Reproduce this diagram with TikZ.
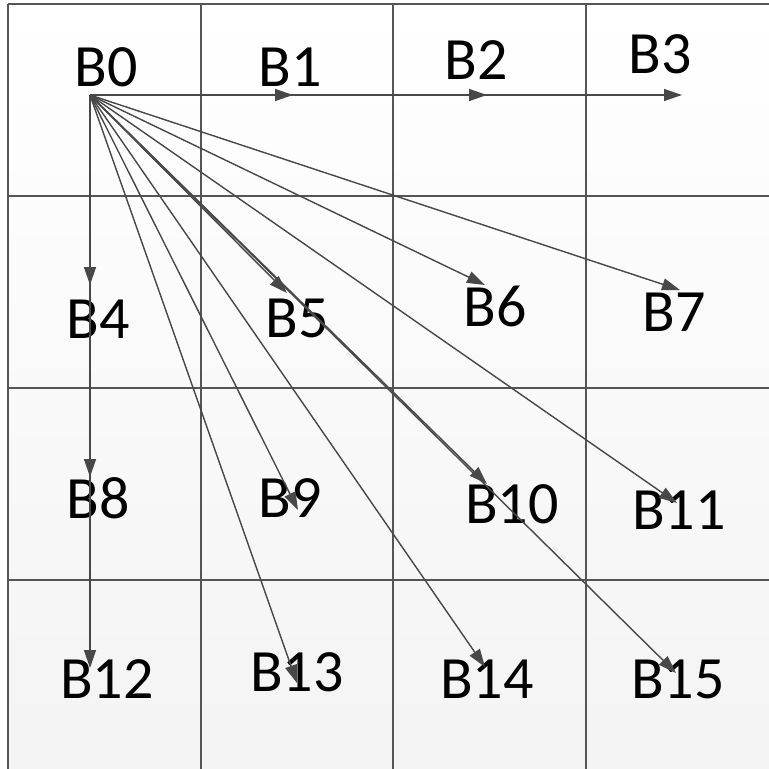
\documentclass[tikz,border=0pt]{standalone}
\usepackage{fontspec}
\setmainfont{Carlito}
\usetikzlibrary{arrows.meta}
\definecolor{gridgray}{RGB}{85,85,85}
\definecolor{arrgray}{RGB}{72,72,72}

\begin{document}
\begin{tikzpicture}[x=1pt,y=-1pt,
    blocklabel/.style={inner sep=0pt, font=\fontsize{60}{66}\selectfont},
    gridline/.style={draw=gridgray, line width=1.8pt},
    arr/.style={-{Triangle[length=18pt,width=12pt]}, draw=arrgray, fill=arrgray, line width=1.4pt}
  ]
  \useasboundingbox (0,0) rectangle (769,769);
  \shade[top color=white, bottom color=gray!9] (8,4) rectangle (769,769);

  % grid of blocks
  \foreach \x in {8,201,393,586} \draw[gridline] (\x,4) -- (\x,769);
  \foreach \y in {4,196,388,580} \draw[gridline] (8,\y) -- (769,\y);

  % block labels
  \node[blocklabel] (b0)  at (106,67)  {B0};
  \node[blocklabel] (b1)  at (290,67)  {B1};
  \node[blocklabel] (b2)  at (476,60)  {B2};
  \node[blocklabel] (b3)  at (660,54)  {B3};
  \node[blocklabel] (b4)  at (98,319)  {B4};
  \node[blocklabel] (b5)  at (297,318) {B5};
  \node[blocklabel] (b6)  at (495,306) {B6};
  \node[blocklabel] (b7)  at (674,312) {B7};
  \node[blocklabel] (b8)  at (98,498)  {B8};
  \node[blocklabel] (b9)  at (290,498) {B9};
  \node[blocklabel] (b10) at (512,504) {B10};
  \node[blocklabel] (b11) at (679,510) {B11};
  \node[blocklabel] (b12) at (107,679) {B12};
  \node[blocklabel] (b13) at (297,672) {B13};
  \node[blocklabel] (b14) at (487,679) {B14};
  \node[blocklabel] (b15) at (678,679) {B15};

  % source point and arrow ends
  \coordinate (src) at (90,95);
  \coordinate (e1)  at (293,95);
  \coordinate (e2)  at (487,95);
  \coordinate (e3)  at (682,95);
  \coordinate (e4)  at (90,285);
  \coordinate (e5)  at (287,293);
  \coordinate (e6)  at (485,285);
  \coordinate (e7)  at (680,290);
  \coordinate (e8)  at (90,477);
  \coordinate (e9)  at (298,510);
  \coordinate (e10) at (487,484);
  \coordinate (e11) at (677,503);
  \coordinate (e12) at (90,668);
  \coordinate (e13) at (297,683);
  \coordinate (e14) at (485,667);
  \coordinate (e15) at (676,673);

  \foreach \i in {1,...,15} \draw[arr] (src) -- (e\i);
\end{tikzpicture}
\end{document}
